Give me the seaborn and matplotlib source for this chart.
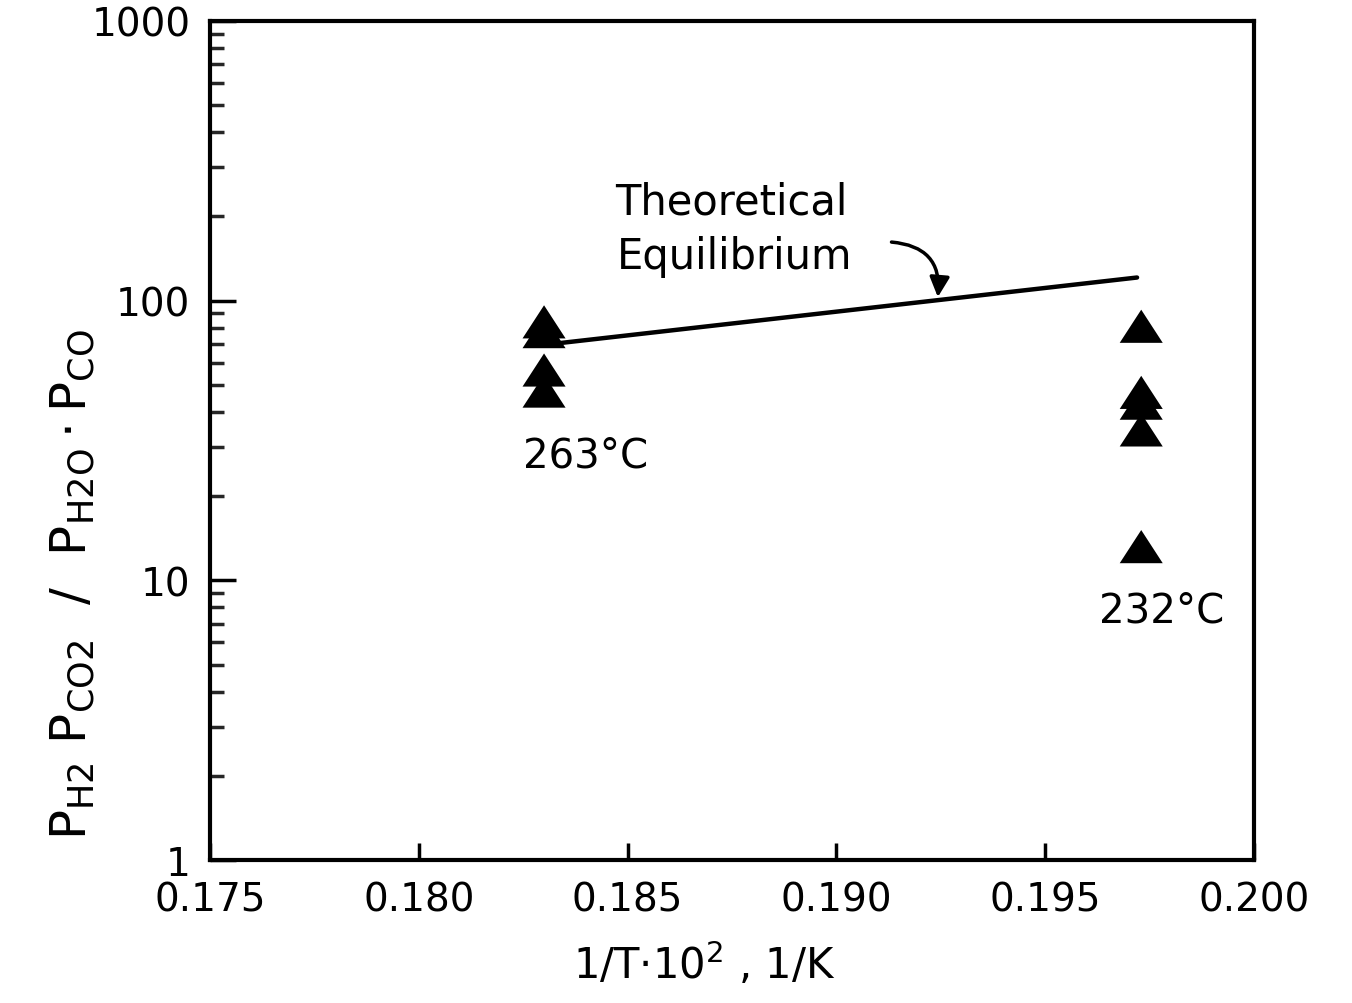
import matplotlib
matplotlib.use("Agg")
import matplotlib.pyplot as plt
import seaborn as sns
import pandas as pd
import numpy as np
from matplotlib.path import Path

# ---- data ----
x_263 = [0.1830, 0.1830, 0.1830, 0.1830]
y_263 = [84.0, 77.5, 56.5, 47.5]
x_232 = [0.1973, 0.1973, 0.1973, 0.1973, 0.1973]
y_232 = [81.0, 47.0, 43.0, 34.5, 13.2]
eq_x = [0.1830, 0.1972]
eq_y = [69.5, 121.0]

x_ticks = [0.175, 0.180, 0.185, 0.190, 0.195, 0.200]
x_ticklabels = ["0.175", "0.180", "0.185", "0.190", "0.195", "0.200"]
y_ticks = [1, 10, 100, 1000]
y_ticklabels = ["1", "10", "100", "1000"]

pts = pd.DataFrame({
    "x": x_263 + x_232,
    "y": y_263 + y_232,
    "group": ["263"] * len(x_263) + ["232"] * len(x_232),
})
eq = pd.DataFrame({"x": eq_x, "y": eq_y})

sns.set_theme(style="white")
plt.rcParams["font.family"] = ["DejaVu Sans"]
plt.rcParams["mathtext.default"] = "regular"
plt.rcParams["text.color"] = "black"
plt.rcParams["axes.labelcolor"] = "black"

fig = plt.figure(figsize=(13.52, 10.04), dpi=100)
ax = fig.add_axes([0.1553, 0.1424, 0.7722, 0.8357])

tri = Path([(0, 0.77), (-1, -0.77), (1, -0.77), (0, 0.77)],
           [Path.MOVETO, Path.LINETO, Path.LINETO, Path.CLOSEPOLY])

sns.lineplot(data=eq, x="x", y="y", color="black", linewidth=3.2, ax=ax,
             zorder=2)
sns.scatterplot(data=pts, x="x", y="y", marker=tri, s=31 ** 2,
                color="black", edgecolor="none", linewidth=0, ax=ax,
                legend=False, zorder=3)

ax.set_yscale("log")
ax.set_xlim(0.175, 0.200)
ax.set_ylim(1, 1000)
ax.set_xticks(x_ticks)
ax.set_xticklabels(x_ticklabels)
ax.set_yticks(y_ticks)
ax.set_yticklabels(y_ticklabels)
ax.yaxis.set_minor_locator(matplotlib.ticker.LogLocator(base=10, subs=np.arange(2, 10)))
ax.yaxis.set_minor_formatter(matplotlib.ticker.NullFormatter())

for s in ax.spines.values():
    s.set_linewidth(3)
    s.set_color("black")

ax.tick_params(axis="x", which="major", direction="in", length=12, width=2.5,
               labelsize=28, pad=15, colors="black", bottom=True, top=False)
ax.tick_params(axis="y", which="major", direction="in", length=19, width=2.5,
               labelsize=28, pad=14, colors="black", left=True, right=False)
ax.tick_params(axis="y", which="minor", direction="in", length=10, width=2.5,
               left=True, right=False)

ax.set_xlabel(r"1/T$\cdot$10$^2$ , 1/K", fontsize=30, color="black")
ax.xaxis.set_label_coords(0.474, -0.095)
ax.set_ylabel(r"$P_{H2}\ P_{CO2}\ \ /\ \ P_{H2O}\cdot P_{CO}$", fontsize=36,
              color="black")
ax.yaxis.set_label_coords(-0.108, 0.33)

ax.text(0.1840, 28, "263°C", fontsize=29, ha="center", va="center")
ax.text(0.1978, 7.8, "232°C", fontsize=29, ha="center", va="center")
ax.text(0.18471, 226, "Theoretical", fontsize=30, ha="left", va="center")
ax.text(0.18474, 144, "Equilibrium", fontsize=30, ha="left", va="center")
ax.annotate("", xy=(0.19243, 103), xytext=(0.19132, 162),
            arrowprops=dict(arrowstyle="-|>", color="black", lw=2.5,
                            mutation_scale=30,
                            connectionstyle="arc3,rad=-0.5",
                            shrinkA=0, shrinkB=0))

fig.savefig("out.png", dpi=100)
